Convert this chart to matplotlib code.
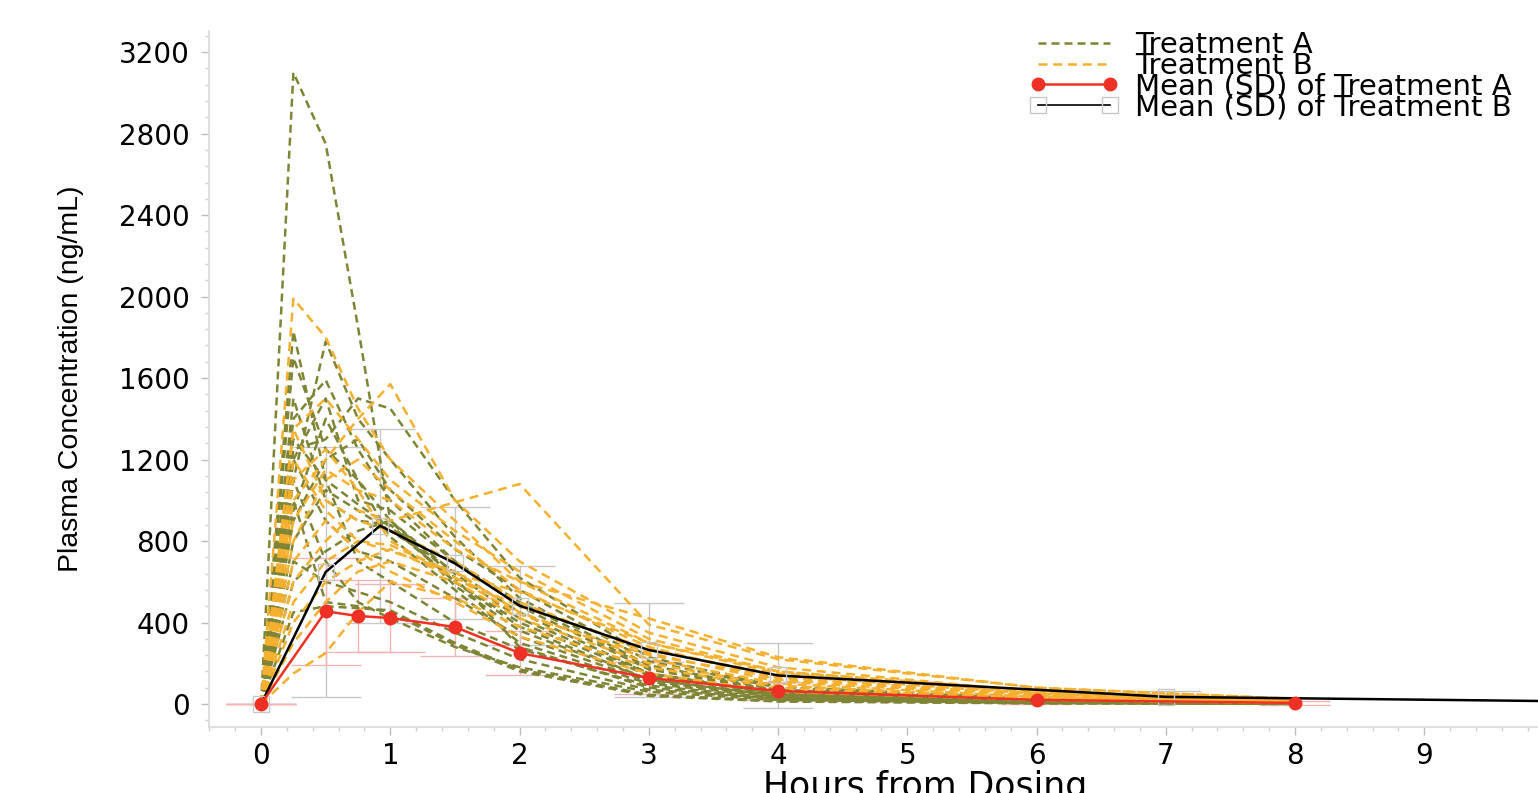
import matplotlib
matplotlib.use("Agg")
import matplotlib.pyplot as plt
from matplotlib.lines import Line2D
from matplotlib.ticker import MultipleLocator

# sampling times for individual profiles (h)
times = [0, 0.25, 0.5, 0.75, 1, 1.5, 2, 3, 4, 6, 8]

# individual concentration-time profiles, Treatment A (ng/mL)
treat_a = [
    [0, 3100, 2750, 1850, 900, 640, 420, 150, 55, 18, 5],
    [0, 1830, 1100, 980, 870, 600, 380, 120, 40, 12, 3],
    [0, 1100, 1780, 1400, 1200, 820, 520, 190, 70, 20, 6],
    [0, 1400, 1590, 1250, 1000, 700, 480, 170, 60, 18, 4],
    [0, 1250, 1300, 1500, 1450, 1000, 620, 230, 85, 25, 8],
    [0, 900, 1200, 1300, 1050, 760, 560, 210, 80, 22, 6],
    [0, 1500, 1000, 900, 880, 600, 400, 140, 50, 14, 3],
    [0, 800, 1050, 950, 850, 650, 450, 150, 50, 15, 4],
    [0, 1200, 900, 750, 700, 520, 330, 110, 40, 10, 2],
    [0, 600, 750, 850, 900, 580, 360, 120, 45, 12, 3],
    [0, 1300, 1100, 700, 600, 400, 270, 90, 30, 8, 2],
    [0, 700, 600, 550, 500, 350, 220, 70, 25, 6, 1],
    [0, 450, 480, 470, 460, 300, 170, 45, 15, 4, 1],
    [0, 1000, 500, 480, 450, 290, 160, 40, 12, 3, 0],
    [0, 1100, 700, 500, 420, 280, 180, 60, 20, 5, 1],
    [0, 950, 1400, 1100, 820, 560, 300, 100, 35, 10, 2],
    [0, 1200, 1500, 1000, 950, 700, 500, 180, 65, 18, 5],
    [0, 1700, 1250, 1100, 900, 620, 280, 80, 25, 7, 2],
]

# individual concentration-time profiles, Treatment B (ng/mL)
treat_b = [
    [0, 1990, 1800, 1450, 1200, 900, 600, 300, 150, 50, 15],
    [0, 1000, 1200, 1400, 1570, 1000, 700, 350, 180, 60, 20],
    [0, 600, 800, 950, 900, 990, 1080, 390, 220, 80, 25],
    [0, 1350, 1500, 1300, 1100, 850, 650, 320, 160, 55, 15],
    [0, 800, 1100, 1200, 1050, 800, 560, 280, 120, 45, 12],
    [0, 1350, 1000, 900, 850, 700, 500, 250, 110, 40, 10],
    [0, 500, 700, 800, 750, 650, 450, 220, 100, 35, 10],
    [0, 300, 500, 650, 700, 600, 420, 200, 90, 30, 8],
    [0, 1100, 1250, 1050, 800, 620, 480, 270, 140, 50, 14],
    [0, 150, 250, 450, 600, 520, 380, 180, 80, 25, 6],
    [0, 700, 900, 750, 650, 500, 330, 150, 60, 20, 5],
    [0, 1200, 950, 800, 780, 640, 550, 300, 160, 65, 20],
    [0, 400, 600, 700, 760, 620, 440, 240, 130, 45, 12],
    [0, 900, 1150, 1050, 1000, 760, 600, 420, 230, 80, 25],
]

# mean (SD) profiles
mean_a_t = [0, 0.5, 0.75, 1, 1.5, 2, 3, 4, 6, 8]
mean_a = [0, 455, 432, 422, 378, 250, 128, 64, 20, 5]
sd_a = [0, 262, 175, 165, 142, 108, 80, 45, 18, 8]

mean_b_t = [0, 0.5, 0.92, 1.5, 2, 3, 4, 7, 12]
mean_b = [0, 648, 875, 690, 483, 265, 140, 35, 0]
sd_b = [0, 612, 475, 275, 195, 230, 160, 28, 0]

col_a = '#7f8535'
col_b = '#f4b02e'
col_red = '#ee3124'
col_grey = '#c8c8c8'
col_pink = '#f6b4b4'

dash_a = (3.2, 2.0)
dash_b = (3.6, 2.3)

fig = plt.figure(figsize=(15.38, 7.93), dpi=100)
ax = fig.add_axes([209 / 1538, 1 - 727 / 793, 1329 / 1538, 696 / 793])

for prof in treat_a:
    ax.plot(times, prof, color=col_a, lw=1.8, dashes=dash_a, zorder=2)
for prof in treat_b:
    ax.plot(times, prof, color=col_b, lw=1.8, dashes=dash_b, zorder=2)

ax.errorbar(mean_b_t, mean_b, yerr=sd_b, fmt='none', ecolor=col_grey,
            elinewidth=1, capsize=25, capthick=1, zorder=1)
ax.errorbar(mean_a_t, mean_a, yerr=sd_a, fmt='none', ecolor=col_pink,
            elinewidth=1, capsize=25, capthick=1, zorder=1)
ax.plot(mean_b_t, mean_b, color='black', lw=1.8, zorder=3)
ax.plot(mean_b_t, mean_b, ls='none', marker='s', ms=11, mfc='none',
        mec=col_grey, mew=1, zorder=3)
ax.plot(mean_a_t, mean_a, color=col_red, lw=1.8, marker='o', ms=9,
        mec=col_red, zorder=4)

ax.set_xlim(-0.403, 9.88)
ax.set_ylim(-113, 3304)
ax.xaxis.set_major_locator(MultipleLocator(1))
ax.xaxis.set_minor_locator(MultipleLocator(0.2))
ax.yaxis.set_major_locator(MultipleLocator(400))
ax.yaxis.set_minor_locator(MultipleLocator(80))

for s in ['top', 'right']:
    ax.spines[s].set_visible(False)
for s in ['left', 'bottom']:
    ax.spines[s].set_color('#d9d9d9')
    ax.spines[s].set_linewidth(1.2)

ax.tick_params(which='major', direction='out', length=6, width=1,
               color='#bdbdbd', labelsize=20, labelcolor='black')
ax.tick_params(axis='x', which='major', pad=5)
ax.tick_params(axis='y', which='major', pad=8)
ax.tick_params(which='minor', direction='out', length=3, width=1,
               color='#d0d0d0')

ax.set_xlabel('Hours from Dosing', fontsize=25, family='DejaVu Sans')
ax.xaxis.set_label_coords(0.539, -0.062)
ax.set_ylabel('Plasma Concentration (ng/mL)', fontsize=20.5,
              family=['Liberation Sans', 'DejaVu Sans'])
ax.yaxis.set_label_coords(-0.094, 0.5)

handles = [
    Line2D([], [], color=col_a, lw=1.8, dashes=dash_a),
    Line2D([], [], color=col_b, lw=1.8, dashes=dash_b),
    Line2D([], [], color=col_red, lw=1.8, marker='o', ms=9),
    Line2D([], [], color='black', lw=1.2, marker='s', ms=11, mfc='none',
           mec=col_grey, mew=1),
]
labels = ['Treatment A', 'Treatment B', 'Mean (SD) of Treatment A',
          'Mean (SD) of Treatment B']
fig.legend(handles, labels, loc='upper right', bbox_to_anchor=(1512 / 1538, 1 - 31 / 793),
           frameon=False, fontsize=21, borderpad=0, borderaxespad=0,
           handlelength=3.1, handletextpad=0.55, labelspacing=-0.25, numpoints=2)

fig.savefig('out.png', dpi=100)
